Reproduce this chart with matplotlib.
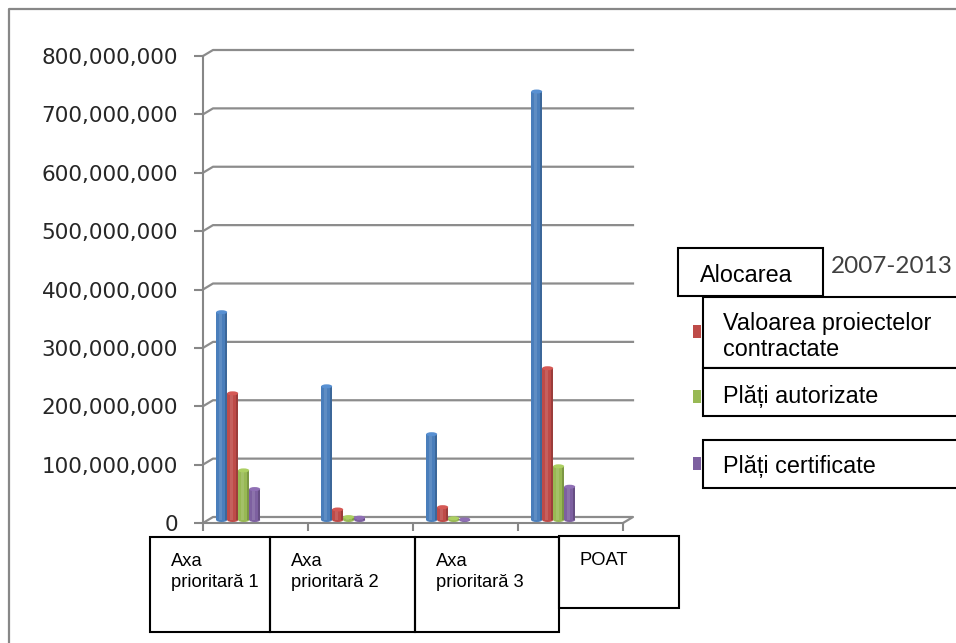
import numpy as np
import matplotlib
matplotlib.use('Agg')
import matplotlib.pyplot as plt
from matplotlib.patches import Rectangle, Ellipse
from matplotlib.ticker import FuncFormatter
import matplotlib.colors as mcolors

# data
categories = ['Axa\nprioritară 1', 'Axa\nprioritară 2', 'Axa\nprioritară 3', 'POAT']
alocarea = [356e6, 229e6, 147e6, 734e6]
valoarea = [217e6, 18e6, 22e6, 260e6]
autorizate = [85e6, 5e6, 3e6, 92e6]
certificate = [53e6, 4e6, 1e6, 57e6]
series = [alocarea, valoarea, autorizate, certificate]
legend_labels = ['Alocarea', 'Valoarea proiectelor\ncontractate', 'Plăți autorizate', 'Plăți certificate']
year_label = '2007-2013'
colors = ['#4a7ebb', '#be4b48', '#98b954', '#7d60a0']
yticks = np.arange(0, 800e6 + 1, 100e6)

W, H = 956, 643
fig = plt.figure(figsize=(W / 100, H / 100), dpi=100)
fig.patch.set_facecolor('white')

# front plane of the 3d box, pixel corners 203..623 x, 523..56 y
ax = fig.add_axes([203 / W, (H - 523) / H, 420 / W, 467 / H])
ax.set_xlim(-0.5, 3.5)
ax.set_ylim(0, 800e6)
ax.patch.set_visible(False)
px_x = 420 / 4.0
px_y = 467 / 800e6
dxd = 10 / px_x          # depth offset of the back wall
dyd = 6 / px_y

grey = '#878787'
for s in ['top', 'right']:
    ax.spines[s].set_visible(False)
for s in ['left', 'bottom']:
    ax.spines[s].set_color(grey)
    ax.spines[s].set_linewidth(1.5)

ax.set_yticks(yticks)
ax.yaxis.set_major_formatter(FuncFormatter(lambda v, p: '{:,.0f}'.format(v)))
ax.tick_params(axis='y', length=6.5, width=1.5, color=grey, pad=11.5,
               labelsize=15.5, labelcolor='#262626')
ax.set_xticks(np.arange(-0.5, 4, 1))
ax.set_xticklabels([])
ax.tick_params(axis='x', length=6, width=1.5, color=grey)
for lab in ax.get_yticklabels():
    lab.set_family('DejaVu Sans')

# back wall gridlines with the diagonal from the front axis
for v in yticks[1:]:
    ax.plot([-0.5, -0.5 + dxd, 3.5 + dxd], [v, v + dyd, v + dyd],
            color='#8c8c8c', lw=1.6, clip_on=False, zorder=1)
ax.plot([-0.5, -0.5 + dxd, 3.5 + dxd, 3.5], [0, dyd, dyd, 0],
        color='#8c8c8c', lw=1.6, clip_on=False, zorder=1)

# cylinders
w = 11 / px_x
centers = np.arange(len(categories)) - 0.165
base = dyd / 2
cap_h = 4 / px_y
for k, (vals, c) in enumerate(zip(series, colors)):
    x = centers + (k - 1.5) * w
    light = mcolors.to_rgb(c)
    light = tuple(min(1, ch * 1.08 + 0.03) for ch in light)
    ax.bar(x, vals, width=w, bottom=base, color=c, lw=0, zorder=3 + k * 0.1)
    ax.bar(x - 0.12 * w, vals, width=0.3 * w, bottom=base, color='white',
           alpha=0.12, lw=0, zorder=3.05 + k * 0.1)
    ax.bar(x + 0.4 * w, vals, width=0.2 * w, bottom=base, color='black',
           alpha=0.18, lw=0, zorder=3.05 + k * 0.1)
    for xi, v in zip(x, vals):
        ax.add_patch(Ellipse((xi, base), w, cap_h, color=c, lw=0,
                             zorder=3 + k * 0.1, clip_on=False))
        ax.add_patch(Ellipse((xi, base + v), w, cap_h, color=light, lw=0,
                             zorder=3.08 + k * 0.1, clip_on=False))

# overlay in pixel coordinates for boxes and frame
ov = fig.add_axes([0, 0, 1, 1])
ov.set_xlim(0, W)
ov.set_ylim(H, 0)
ov.axis('off')

ov.plot([9, 9, W + 5], [H + 5, 9, 9], color=grey, lw=1.6, clip_on=False)

box_left = [150, 270, 415, 559]
box_right = [270, 415, 559, 679]
box_top = [537, 537, 537, 536]
box_bottom = [632, 632, 632, 608]
txt_font = dict(family='Liberation Sans', fontsize=13.2, color='black')
for i, cat in enumerate(categories):
    ov.add_patch(Rectangle((box_left[i], box_top[i]), box_right[i] - box_left[i],
                           box_bottom[i] - box_top[i], fill=False,
                           edgecolor='black', lw=1.5, zorder=5))
    for j, line in enumerate(cat.split('\n')):
        ov.text(box_left[i] + 21, 566 + 21 * j - (1 if i == 3 else 0), line,
                va='baseline', ha='left', **txt_font)

# legend
leg_font = dict(family='Liberation Sans', fontsize=16.8, color='black')
marker_y = [258, 325, 390, 457]
for c, my in zip(colors, marker_y):
    ov.add_patch(Rectangle((693, my), 8.5, 13, color=c, lw=0, zorder=4))

ov.add_patch(Rectangle((678, 248), 145, 48, facecolor='white',
                       edgecolor='black', lw=1.5, zorder=6))
ov.text(700, 282, legend_labels[0], va='baseline', ha='left', zorder=7, **leg_font)
ov.text(831, 273, year_label, va='baseline', ha='left', family='Lato',
        fontsize=17.5, color='#404040', zorder=7)

leg_boxes = [(297, 368), (368, 416), (440, 488)]
leg_base = [330, 403, 473]
for lab, (t, b), yb in zip(legend_labels[1:], leg_boxes, leg_base):
    ov.add_patch(Rectangle((703, t), 270, b - t, facecolor='white',
                           edgecolor='black', lw=1.5, zorder=6, clip_on=True))
    for j, line in enumerate(lab.split('\n')):
        ov.text(723, yb + 26 * j, line, va='baseline', ha='left', zorder=7,
                **leg_font)

fig.savefig('out.png', dpi=100)
